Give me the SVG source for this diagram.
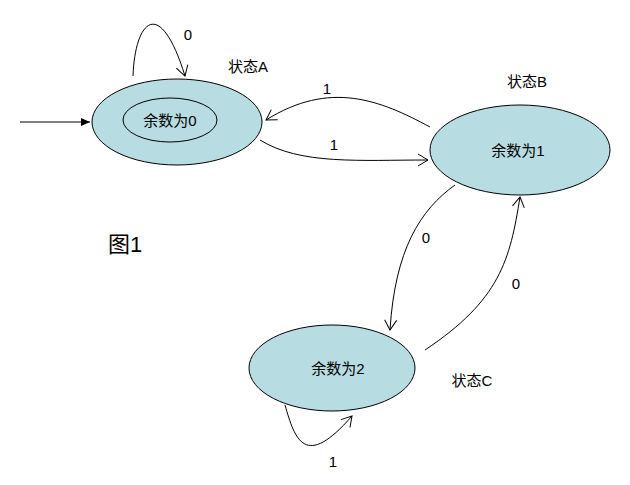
<svg xmlns="http://www.w3.org/2000/svg" width="630" height="485" viewBox="0 0 630 485">
<style>
.n{fill:#b7dde3;stroke:#000;stroke-width:1}
.t{font-family:"Liberation Sans","Noto Sans CJK SC",sans-serif;font-size:15px;text-anchor:middle;fill:#000}
.e{fill:none;stroke:#000;stroke-width:1;marker-end:url(#v)}
</style>
<defs>
<marker id="v" markerWidth="14" markerHeight="14" refX="12" refY="7" orient="auto" markerUnits="userSpaceOnUse">
<path d="M2,1 L12,7 L2,13" fill="none" stroke="#000"/>
</marker>
<marker id="f" markerWidth="10" markerHeight="8" refX="9" refY="4" orient="auto" markerUnits="userSpaceOnUse">
<path d="M0,0 L9,4 L0,8 Z" fill="#000"/>
</marker>
</defs>
<rect width="630" height="485" fill="#fff"/>
<g id="A">
<ellipse class="n" cx="177" cy="122" rx="85" ry="43"/>
<ellipse class="n" cx="170" cy="120" rx="47" ry="22"/>
<text class="t" x="170" y="126">余数为0</text>
</g>
<g id="B">
<ellipse class="n" cx="520" cy="150" rx="90" ry="45"/>
<text class="t" x="518" y="156">余数为1</text>
</g>
<g id="C">
<ellipse class="n" cx="332" cy="368" rx="83" ry="43"/>
<text class="t" x="338" y="374">余数为2</text>
</g>
<g id="edges">
<path d="M20,122 L90,122" fill="none" stroke="#000" marker-end="url(#f)"/>
<path class="e" d="M133,76 C135,20 160,-5 185,76"/>
<path class="e" d="M260,140 C300,165 360,160 428,160"/>
<path class="e" d="M430,127 C380,100 330,80 266,120"/>
<path class="e" d="M455,185 C420,210 395,250 390,330"/>
<path class="e" d="M425,350 C500,300 510,260 520,197"/>
<path class="e" d="M285,405 C295,440 305,470 352,416"/>
</g>
<g id="labels" class="t">
<text class="t" x="188" y="40">0</text>
<text class="t" x="327" y="94">1</text>
<text class="t" x="334" y="150">1</text>
<text class="t" x="426" y="243">0</text>
<text class="t" x="516" y="289">0</text>
<text class="t" x="333" y="467">1</text>
<text class="t" x="248" y="72">状态A</text>
<text class="t" x="527" y="87">状态B</text>
<text class="t" x="472" y="386">状态C</text>
<text class="t" x="125" y="252" style="font-size:22px">图1</text>
</g>
</svg>
